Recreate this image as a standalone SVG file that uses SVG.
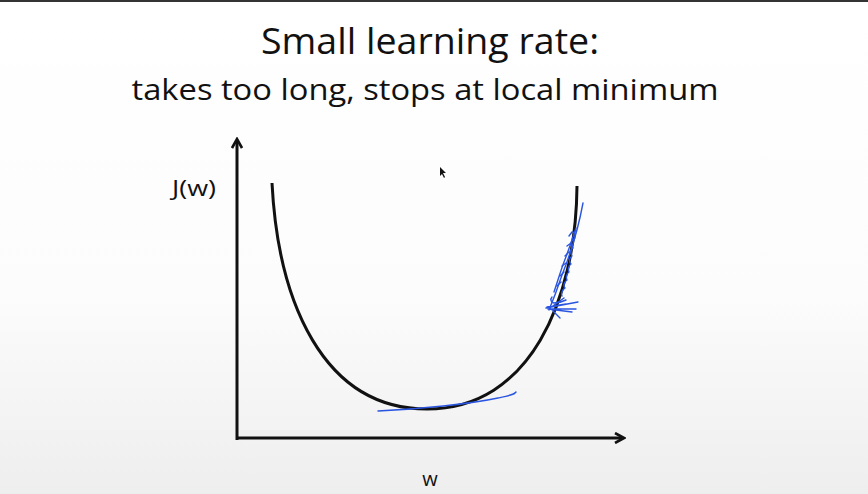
<svg xmlns="http://www.w3.org/2000/svg" width="868" height="494" viewBox="0 0 868 494">
<defs>
<linearGradient id="bg" x1="0" y1="0" x2="0" y2="1">
<stop offset="0" stop-color="#ffffff"/>
<stop offset="0.6" stop-color="#fcfcfc"/>
<stop offset="1" stop-color="#eeeeee"/>
</linearGradient>
<marker id="arr" viewBox="0 0 12 12" refX="9" refY="6" markerWidth="12" markerHeight="12" markerUnits="userSpaceOnUse" orient="auto">
<path d="M1,1 L10,6 L1,11" fill="none" stroke="#111" stroke-width="2.6"/>
</marker>
<style>
.t{font-family:"Open Sans",Lato,"Liberation Sans",sans-serif;fill:#111;text-anchor:middle}
.ax{stroke:#111;stroke-width:3;fill:none}
.ink{stroke:#2a55e0;fill:none;stroke-width:1.4;stroke-linecap:round;stroke-linejoin:round}
</style>
</defs>
<rect width="868" height="494" fill="url(#bg)"/>
<rect x="0" y="0" width="868" height="2" fill="#333"/>
<text class="t" x="430" y="54" font-size="36" textLength="338" lengthAdjust="spacingAndGlyphs">Small learning rate:</text>
<text class="t" x="425" y="100" font-size="30" textLength="587" lengthAdjust="spacingAndGlyphs">takes too long, stops at local minimum</text>
<g id="axes">
<path class="ax" d="M237,440 L237,140" marker-end="url(#arr)"/>
<path class="ax" d="M236,438 L623,438" marker-end="url(#arr)"/>
</g>
<text class="t" x="194" y="196" font-size="21" textLength="44" lengthAdjust="spacingAndGlyphs">J(w)</text>
<text class="t" x="430" y="486" font-size="20">w</text>
<g id="curve">
<path d="M272,183 C278,300 322,409 427,409 C530,409 576,300 577,186" fill="none" stroke="#111" stroke-width="3"/>
</g>
<g id="scribble">
<path class="ink" d="M378,411 C420,409 470,404 498,398 C508,396 514,395 516,392"/>
<path class="ink" stroke-width="2" d="M583,203 C578,230 570,255 562,275 C558,287 554,298 549,310"/>
<path class="ink" stroke-width="2" d="M576,228 C572,240 568,252 564,262 C561,270 558,280 554,292"/>
<path class="ink" stroke-width="1.6" d="M573,232 c3,2 3,6 0,8 c-3,2 -2,6 0,8 c-3,2 -2,6 -1,8 c-3,2 -3,6 -1,8 c-3,2 -3,6 -2,8 c-3,2 -3,6 -2,8 c-3,2 -4,6 -2,8 c-3,2 -4,6 -3,8"/>
<path class="ink" stroke-width="1.6" d="M569,236 L572,232 M567,246 L571,243 M565,256 L569,252 M562,266 L566,263 M560,276 L564,272 M557,286 L561,282"/>
<path class="ink" d="M566,300 c-4,2 -8,3 -12,3 c-3,0 -4,-4 -2,-6"/>
<path class="ink" stroke-width="2.2" d="M546,308 L578,302 M548,309 L572,312 M550,308 L564,298 M552,310 L560,318 M549,309 L576,309 M547,307 L566,304"/>
</g>
<g id="cursor">
<path d="M440,167 L440,176 L442,174 L444,178 L445,177 L443,173 L446,173 Z" fill="#111"/>
</g>
</svg>
